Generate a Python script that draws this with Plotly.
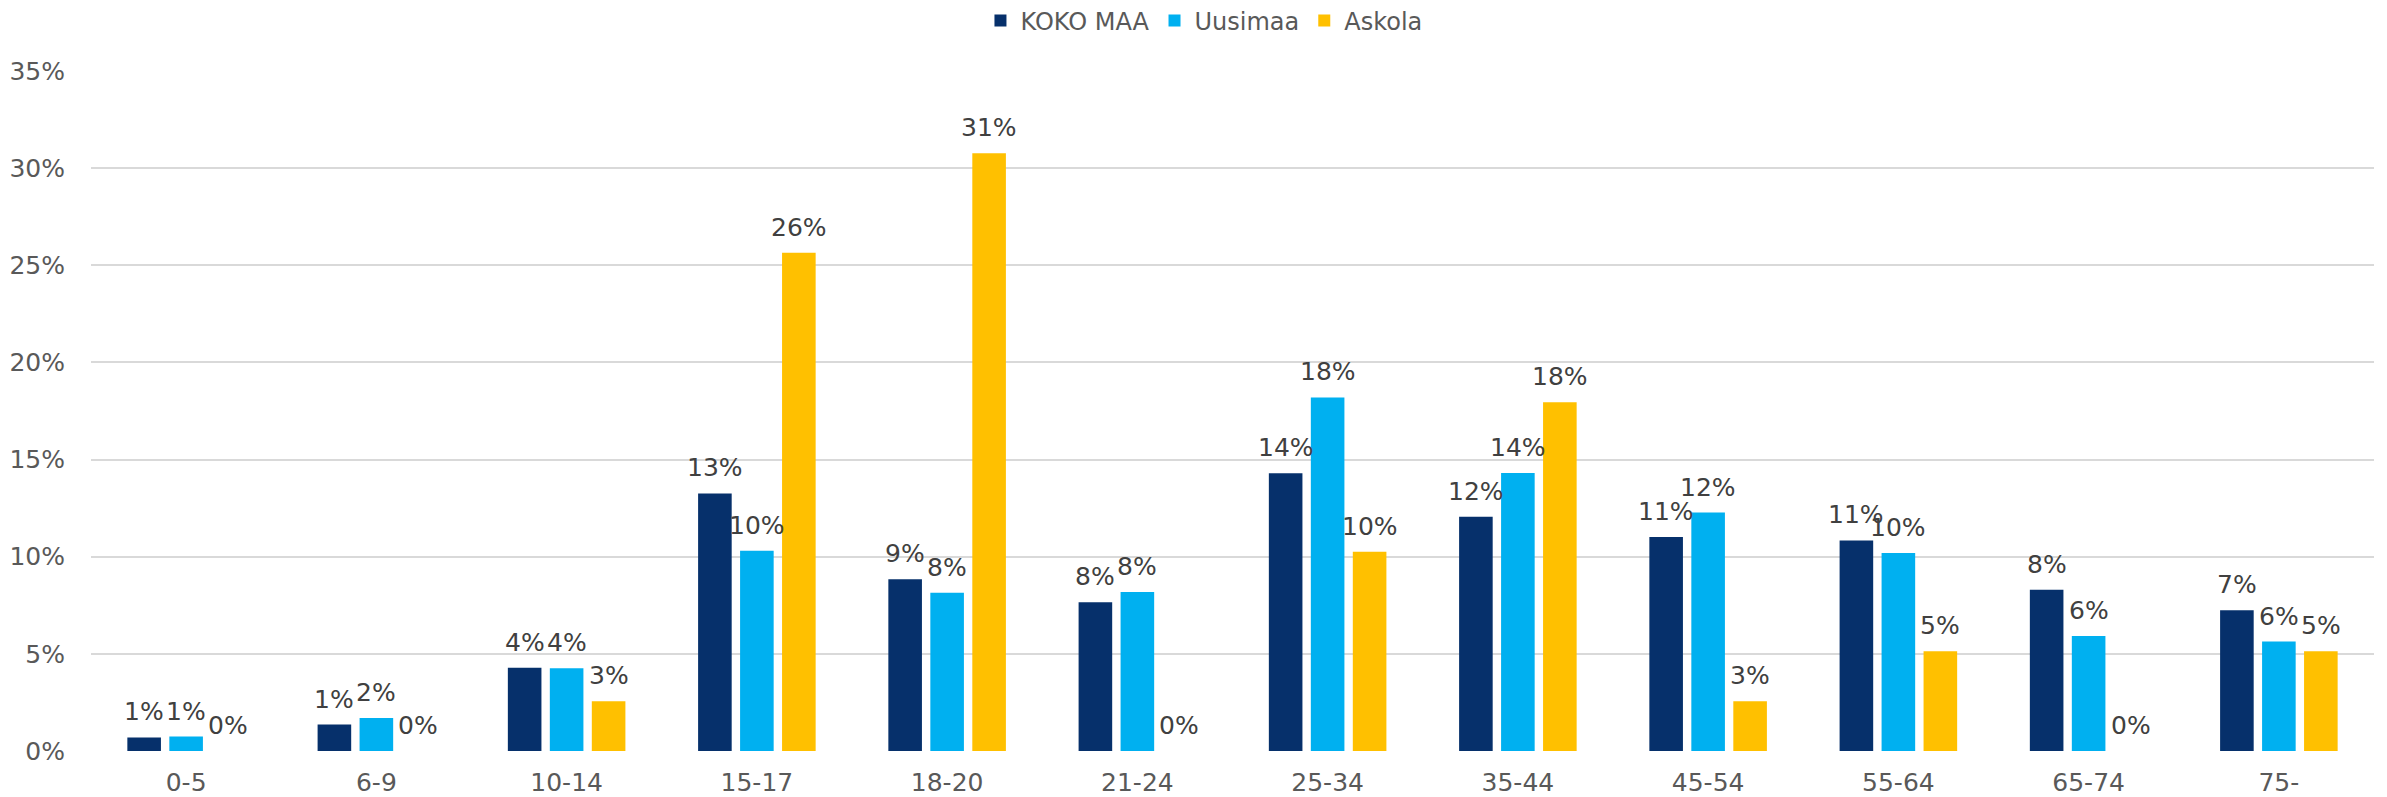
import plotly.graph_objects as go

categories = ["0-5", "6-9", "10-14", "15-17", "18-20", "21-24", "25-34", "35-44", "45-54", "55-64", "65-74", "75-"]
koko_maa = [0.0070, 0.0136, 0.0429, 0.1326, 0.0884, 0.0765, 0.1429, 0.1206, 0.1101, 0.1084, 0.0830, 0.0724]
uusimaa = [0.0074, 0.0170, 0.0426, 0.1031, 0.0815, 0.0818, 0.1820, 0.1431, 0.1227, 0.1019, 0.0592, 0.0563]
askola = [0.0, 0.0, 0.0256, 0.2564, 0.3077, 0.0, 0.1026, 0.1795, 0.0256, 0.0513, 0.0, 0.0513]
series_names = ["KOKO MAA", "Uusimaa", "Askola"]
y_ticks = [0, 0.05, 0.10, 0.15, 0.20, 0.25, 0.30, 0.35]

colors = ["#06306B", "#00B0F0", "#FFC000"]
series = [koko_maa, uusimaa, askola]
FONT = "Verdana, DejaVu Sans, sans-serif"
FS = 25

fig = go.Figure()
for name, vals, col in zip(series_names, series, colors):
    fig.add_trace(go.Bar(
        x=categories, y=vals, name=name,
        marker=dict(color=col, line=dict(width=0)),
    ))

annotations = []
shifts = [-42, 0, 42]
for vals, dx in zip(series, shifts):
    for c, v in zip(categories, vals):
        annotations.append(dict(
            x=c, y=v, xref="x", yref="y", text=f"{v:.0%}",
            showarrow=False, xshift=dx, yshift=9, yanchor="bottom",
            font=dict(family=FONT, size=FS, color="#404040"),
        ))

fig.update_layout(
    width=2387, height=797,
    margin=dict(l=91, r=13, t=71, b=46, autoexpand=False),
    paper_bgcolor="white", plot_bgcolor="white",
    barmode="group", bargap=0.338, bargroupgap=0.2,
    font=dict(family=FONT, size=FS, color="#595959"),
    legend=dict(orientation="h", x=0.4875, xanchor="center", y=1.0735, yanchor="middle",
                font=dict(family=FONT, size=24, color="#595959"),
                itemwidth=30, tracegroupgap=0, bgcolor="rgba(0,0,0,0)"),
    annotations=annotations,
    showlegend=True,
)
fig.update_yaxes(range=[0, 0.35], tickvals=y_ticks, tickformat=".0%",
                 showgrid=True, gridcolor="#D9D9D9", gridwidth=2,
                 zeroline=False, showline=False, ticks="",
                 ticklabelstandoff=25,
                 tickfont=dict(family=FONT, size=FS, color="#595959"))
fig.update_xaxes(showgrid=False, showline=False, ticks="", ticklabelstandoff=14,
                 tickfont=dict(family=FONT, size=FS, color="#595959"))

fig.write_html("out.html", config={"displayModeBar": False},
               post_script="document.body.style.margin='0';")
